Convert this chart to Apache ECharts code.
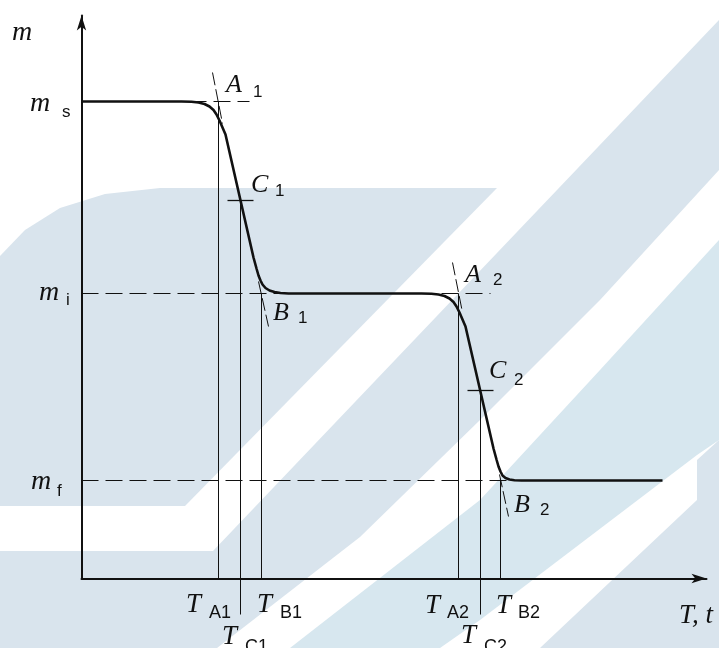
<!DOCTYPE html>
<html>
<head>
<meta charset="utf-8">
<script src="https://cdn.jsdelivr.net/npm/echarts@6.0.0/dist/echarts.min.js"></script>
<style>
html, body { margin: 0; padding: 0; background: #fff; }
#main { width: 719px; height: 648px; }
</style>
</head>
<body>
<div id="main"></div>
<script>
// mass plateaus: m_s, m_i, m_f
const massLevels = [477, 285, 98]
// characteristic temperatures of the two steps
const onsetT = [137, 377]      // T_A1, T_A2
const inflectT = [159, 399]    // T_C1, T_C2
const endT = [180, 419]        // T_B1, T_B2
const inflectMass = [378, 188] // mass at C1, C2

// the TG curve
const curveT = [0, 100, 110, 117, 123, 128, 132, 135, 138, 141, 144,
    172, 175, 177, 179, 181, 184, 188, 193, 199, 207,
    340, 350, 357, 363, 368, 372, 375, 378, 381, 384,
    412, 415, 417, 419, 421, 424, 428, 433, 440, 581]
const curveMass = [477, 477, 476.8, 476, 474.5, 472, 468.5, 464, 458, 451, 444,
    321, 310, 303, 298, 294, 290.5, 288, 286.5, 285.5, 285,
    285, 284.8, 284, 282.5, 280, 276.5, 272, 266, 259, 252,
    130, 119, 112, 107, 103, 100.5, 99, 98.3, 98, 98]

// extrapolated tangents through A1, B1, A2, B2
const tangentT = [[131, 141], [177, 187], [371, 381], [418, 427]]
const tangentMass = [[506, 455], [297, 252], [316, 266], [104, 62]]

// dashed extensions of the plateaus
const dashFrom = [108, 0, 0]
const dashTo = [168, 409, 440]
const inflectDrop = -36

const ink = '#111111'

function seg(points, width, type) {
    return {
        type: 'line',
        data: points,
        symbol: 'none',
        silent: true,
        clip: false,
        animation: false,
        lineStyle: { color: ink, width: width, type: type || 'solid' }
    }
}

let series = []
let curve = seg(curveT.map((t, i) => [t, curveMass[i]]), 2.6)
curve.z = 5
series.push(curve)

massLevels.forEach(function (m, i) {
    series.push(seg([[dashFrom[i], m], [dashTo[i], m]], 1, [17, 7]))
})
for (let i = 0; i < onsetT.length; i++) {
    series.push(seg([[onsetT[i], 0], [onsetT[i], massLevels[i]]], 1))
    series.push(seg([[inflectT[i], inflectDrop], [inflectT[i], inflectMass[i]]], 1))
    series.push(seg([[endT[i], 0], [endT[i], massLevels[i + 1]]], 1))
    series.push(seg([[inflectT[i] - 13, inflectMass[i]], [inflectT[i] + 13, inflectMass[i]]], 1.3))
}
tangentT.forEach(function (t, i) {
    series.push(seg([[t[0], tangentMass[i][0]], [t[1], tangentMass[i][1]]], 1, [13, 4]))
})

// faint watermark behind the drawing
const wm = [
    { fill: '#d9e4ed', pts: [[0,256],[25,230],[60,208],[105,194],[160,188],[497,188],[185,506],[0,506]] },
    { fill: '#d9e4ed', pts: [[0,551],[213,551],[719,20],[719,170],[600,300],[480,420],[360,537],[217,648],[0,648]] },
    { fill: '#d7e7ef', pts: [[290,648],[480,500],[600,370],[719,240],[719,440],[697,455],[480,620],[440,648]] },
    { fill: '#d9e4ed', pts: [[540,648],[697,500],[697,460],[719,440],[719,648]] }
]

const serif = '"Liberation Serif", "DejaVu Serif", serif'
const sans = '"Liberation Sans", Arial, sans-serif'

function txt(x, y, s, size, italic) {
    return {
        type: 'text', x: x, y: y, z: 20, silent: true,
        style: {
            text: s, fill: ink, align: 'left', verticalAlign: 'middle',
            font: (italic ? 'italic ' : '') + size + 'px ' + (italic ? serif : sans)
        }
    }
}

let labels = [
    txt(12, 33, 'm', 28, true),
    txt(30, 104, 'm', 28, true), txt(62, 112, 's', 17),
    txt(39, 293, 'm', 28, true), txt(66, 300, 'i', 17),
    txt(31, 482, 'm', 28, true), txt(57, 491, 'f', 17),
    txt(226, 85, 'A', 26, true), txt(253, 92, '1', 17),
    txt(251, 185, 'C', 26, true), txt(275, 191, '1', 17),
    txt(273, 313, 'B', 26, true), txt(298, 318, '1', 17),
    txt(465, 275, 'A', 26, true), txt(493, 280, '2', 17),
    txt(489, 371, 'C', 26, true), txt(514, 380, '2', 17),
    txt(514, 505, 'B', 26, true), txt(540, 510, '2', 17),
    txt(186, 605, 'T', 27, true), txt(209, 613, 'A1', 18),
    txt(257, 605, 'T', 27, true), txt(280, 613, 'B1', 18),
    txt(222, 637, 'T', 27, true), txt(245, 647, 'C1', 18),
    txt(425, 606, 'T', 27, true), txt(447, 613, 'A2', 18),
    txt(496, 606, 'T', 27, true), txt(518, 613, 'B2', 18),
    txt(461, 636, 'T', 27, true), txt(484, 647, 'C2', 18),
    txt(679, 616, 'T, t', 27, true)
]

let graphics = wm.map(function (w) {
    return { type: 'polygon', z: -10, silent: true, shape: { points: w.pts }, style: { fill: w.fill } }
}).concat(labels)

let axisCommon = {
    type: 'value',
    axisTick: { show: false },
    axisLabel: { show: false },
    splitLine: { show: false },
    axisLine: {
        show: true,
        symbol: ['none', 'arrow'],
        symbolSize: [7, 15],
        lineStyle: { color: ink, width: 2 }
    }
}

let chart = echarts.init(document.getElementById('main'))
chart.setOption({
    backgroundColor: '#fff',
    animation: false,
    grid: { left: 81.5, right: 12.5, top: 15.5, bottom: 69.5 },
    xAxis: Object.assign({ min: 0, max: 625 }, axisCommon),
    yAxis: Object.assign({ min: 0, max: 563 }, axisCommon),
    graphic: graphics,
    series: series
})
</script>
</body>
</html>
